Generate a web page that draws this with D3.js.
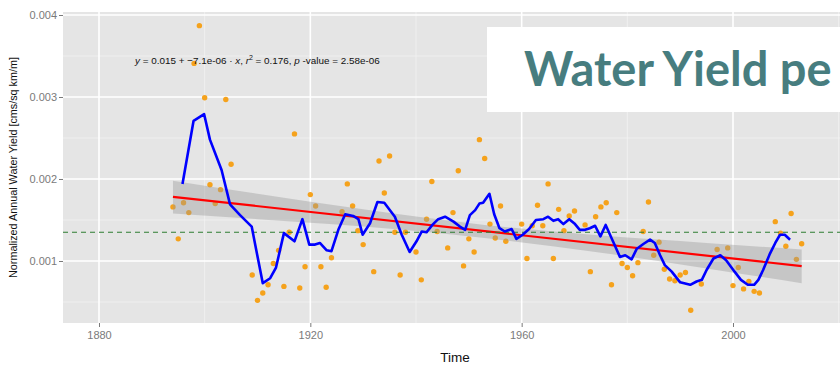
<!DOCTYPE html>
<html>
<head>
<meta charset="utf-8">
<script src="https://cdn.jsdelivr.net/npm/d3@7"></script>
<style>
  html, body { margin: 0; padding: 0; background: #fff; }
  svg { display: block; }
</style>
</head>
<body>
<svg id="chart" width="840" height="365"></svg>
<script>
// Annual normalized water yield observations (year, cms/sq km/m)
const obsYears = [1894,1895,1896,1897,1898,1899,1900,1901,1902,1903,1904,1905,
  1909,1910,1911,1912,1913,1914,1915,1916,1917,1918,1919,1920,1921,1922,1923,1924,
  1926,1927,1928,1929,1930,1932,1933,1934,1935,1936,1937,1938,1940,1941,1942,1943,1944,
  1946,1947,1948,1949,1950,1951,1952,1953,1954,1955,1956,1957,1960,1961,1962,1963,1964,
  1965,1966,1967,1968,1969,1970,1972,1973,1974,1975,1976,1977,1978,1979,1980,1981,1982,
  1983,1984,1985,1986,1987,1988,1989,1990,1991,1992,1994,1997,1999,2000,2001,2002,2003,
  2004,2005,2008,2009,2010,2011,2012,2013];
const obsValues = [0.00166,0.00127,0.00171,0.00159,0.00341,0.00387,0.00299,0.00193,0.00170,0.00187,0.00297,0.00218,
  0.00083,0.00052,0.00061,0.00071,0.00097,0.00113,0.00069,0.00135,0.00255,0.00067,0.00093,0.00181,0.00167,0.00093,0.00068,0.00104,
  0.00160,0.00194,0.00167,0.00137,0.00120,0.00087,0.00222,0.00183,0.00228,0.00135,0.00083,0.00135,0.00111,0.00077,0.00151,0.00197,0.00136,
  0.00116,0.00159,0.00210,0.00094,0.00127,0.00111,0.00248,0.00225,0.00145,0.00128,0.00167,0.00124,0.00145,0.00103,0.00143,0.00168,0.00143,
  0.00194,0.00103,0.00163,0.00137,0.00155,0.00161,0.00144,0.00087,0.00154,0.00166,0.00171,0.00071,0.00159,0.00097,0.00092,0.00082,0.00098,
  0.00136,0.00172,0.00107,0.00123,0.00090,0.00078,0.00076,0.00083,0.00086,0.00040,0.00072,0.00114,0.00116,0.00070,0.00092,0.00066,0.00075,
  0.00063,0.00061,0.00148,0.00134,0.00118,0.00158,0.00102,0.00121];

// Running-mean curve
const smoothYears = [1895.8,1897.9,1899.9,1901.0,1903.2,1904.8,1906.7,1908.9,1910.2,1911.0,1912.4,1913.5,
  1915.0,1917.0,1918.5,1919.8,1920.9,1921.8,1923.1,1924.0,1925.3,1926.6,1928.1,1929.1,1929.9,1931.3,
  1932.7,1934.0,1936.0,1937.3,1938.8,1940.1,1941.1,1942.0,1943.1,1944.2,1945.5,1947.1,1948.3,1949.3,
  1950.2,1951.2,1952.0,1952.7,1953.9,1954.8,1955.8,1956.8,1958.1,1959.0,1960.2,1961.4,1962.7,1964.1,
  1965.0,1966.0,1966.9,1967.9,1969.0,1970.1,1971.0,1972.0,1972.9,1973.9,1974.9,1975.9,1977.0,1978.6,
  1979.6,1980.8,1981.8,1983.1,1984.3,1985.2,1986.2,1987.1,1988.4,1990.0,1991.9,1993.1,1994.1,1995.0,
  1996.3,1997.6,1998.7,2000.3,2001.5,2002.8,2004.0,2004.8,2005.7,2007.0,2008.0,2008.9,2009.8,2010.8];
const smoothValues = [0.00194,0.00271,0.00279,0.00248,0.00211,0.00169,0.00156,0.00142,0.00099,0.00073,0.00079,0.00092,
  0.00134,0.00124,0.00151,0.00120,0.00120,0.00122,0.00113,0.00112,0.00138,0.00157,0.00155,0.00151,0.00132,0.00146,
  0.00172,0.00171,0.00154,0.00132,0.00111,0.00124,0.00136,0.00135,0.00144,0.00151,0.00154,0.00148,0.00142,0.00138,
  0.00156,0.00162,0.00170,0.00171,0.00182,0.00157,0.00140,0.00136,0.00139,0.00127,0.00132,0.00139,0.00150,0.00151,
  0.00154,0.00149,0.00151,0.00145,0.00151,0.00145,0.00138,0.00138,0.00140,0.00143,0.00130,0.00144,0.00128,0.00105,
  0.00107,0.00102,0.00115,0.00121,0.00126,0.00122,0.00107,0.00095,0.00087,0.00074,0.00071,0.00075,0.00077,0.00089,
  0.00103,0.00107,0.00101,0.00087,0.00077,0.00071,0.00071,0.00077,0.00089,0.00109,0.00122,0.00132,0.00132,0.00126];

// Linear fit: intercept, slope, r squared, p-value, fitted year range
const fitCoef = [0.01523, -7.1e-6];
const fitStats = [0.176, 2.58e-6];
const fitRange = [1894, 2013];

// Confidence band of the fit
const bandYears = [1894, 1910, 1930, 1953, 1975, 1995, 2013];
const bandLow   = [0.00158, 0.00151, 0.00142, 0.00128, 0.00110, 0.00091, 0.00073];
const bandHigh  = [0.00198, 0.00182, 0.00163, 0.00144, 0.00131, 0.00122, 0.00114];

// Long-term mean
const meanValue = [0.00135];

// Axis ticks
const xMajor = [1880, 1920, 1960, 2000, 2040];
const xMinor = [1900, 1940, 1980, 2020];
const yMajor = [0.001, 0.002, 0.003, 0.004];
const yMinor = [0.0005, 0.0015, 0.0025, 0.0035];

const titleText = "Water Yield pe";

const svg = d3.select("#chart");
const panel = { left: 63, top: 12, right: 847, bottom: 323 };

const x = d3.scaleLinear().domain([1880, 2000]).range([99, 733]);
const y = d3.scaleLinear().domain([0.001, 0.004]).range([261, 15]);

svg.append("defs").append("clipPath").attr("id", "panelClip")
  .append("rect")
  .attr("x", panel.left).attr("y", panel.top)
  .attr("width", panel.right - panel.left).attr("height", panel.bottom - panel.top);

// Panel background
svg.append("rect")
  .attr("x", panel.left).attr("y", panel.top)
  .attr("width", panel.right - panel.left).attr("height", panel.bottom - panel.top)
  .attr("fill", "#e5e5e5");

const grid = svg.append("g").attr("clip-path", "url(#panelClip)");
grid.selectAll(".vmin").data(xMinor).join("line")
  .attr("x1", d => x(d)).attr("x2", d => x(d))
  .attr("y1", panel.top).attr("y2", panel.bottom)
  .attr("stroke", "#f2f2f2").attr("stroke-width", 0.8);
grid.selectAll(".hmin").data(yMinor).join("line")
  .attr("y1", d => y(d)).attr("y2", d => y(d))
  .attr("x1", panel.left).attr("x2", panel.right)
  .attr("stroke", "#f2f2f2").attr("stroke-width", 0.8);
grid.selectAll(".vmaj").data(xMajor).join("line")
  .attr("x1", d => x(d)).attr("x2", d => x(d))
  .attr("y1", panel.top).attr("y2", panel.bottom)
  .attr("stroke", "#ffffff").attr("stroke-width", 1.6);
grid.selectAll(".hmaj").data(yMajor).join("line")
  .attr("y1", d => y(d)).attr("y2", d => y(d))
  .attr("x1", panel.left).attr("x2", panel.right)
  .attr("stroke", "#ffffff").attr("stroke-width", 1.6);

const plot = svg.append("g").attr("clip-path", "url(#panelClip)");

// Observations
const obs = obsYears.map((yr, i) => ({ yr, v: obsValues[i] }));
plot.append("g").selectAll("circle").data(obs).join("circle")
  .attr("cx", d => x(d.yr)).attr("cy", d => y(d.v))
  .attr("r", 2.7)
  .attr("fill", "#f5a21c");

// Confidence band
const band = bandYears.map((yr, i) => ({ yr, lo: bandLow[i], hi: bandHigh[i] }));
plot.append("path").datum(band)
  .attr("d", d3.area().curve(d3.curveMonotoneX)
    .x(d => x(d.yr)).y0(d => y(d.lo)).y1(d => y(d.hi)))
  .attr("fill", "#999999").attr("fill-opacity", 0.4);

// Fitted line
const fitY = yr => fitCoef[0] + fitCoef[1] * yr;
plot.append("path").datum(fitRange)
  .attr("d", d3.line().x(d => x(d)).y(d => y(fitY(d))))
  .attr("fill", "none").attr("stroke", "#ff0000").attr("stroke-width", 2.2);

// Mean reference line
plot.selectAll(".mean").data(meanValue).join("line")
  .attr("x1", panel.left).attr("x2", panel.right)
  .attr("y1", d => y(d)).attr("y2", d => y(d))
  .attr("stroke", "#2e7d32").attr("stroke-width", 1.1)
  .attr("stroke-dasharray", "5,4");

// Running mean
const smooth = smoothYears.map((yr, i) => ({ yr, v: smoothValues[i] }));
plot.append("path").datum(smooth)
  .attr("d", d3.line().x(d => x(d.yr)).y(d => y(d.v)))
  .attr("fill", "none").attr("stroke", "#0000ff").attr("stroke-width", 2.6)
  .attr("stroke-linejoin", "round");

// Axes
const tickColor = "#7a7a7a";
const yAxis = svg.append("g").attr("transform", `translate(${panel.left},0)`)
  .call(d3.axisLeft(y).tickValues(yMajor).tickFormat(d3.format(".3f")).tickSize(4).tickPadding(2));
yAxis.select(".domain").remove();
yAxis.selectAll("line").attr("stroke", tickColor);
yAxis.selectAll("text").attr("fill", tickColor)
  .style("font-family", "Liberation Sans, Arial, sans-serif").style("font-size", "11px");

const xAxis = svg.append("g").attr("transform", `translate(0,${panel.bottom})`)
  .call(d3.axisBottom(x).tickValues(xMajor.filter(d => x(d) < 840)).tickFormat(d3.format("d")).tickSize(4).tickPadding(4));
xAxis.select(".domain").remove();
xAxis.selectAll("line").attr("stroke", tickColor);
xAxis.selectAll("text").attr("fill", tickColor)
  .style("font-family", "Liberation Sans, Arial, sans-serif").style("font-size", "11px");

// Axis titles
svg.append("text")
  .attr("x", (panel.left + panel.right) / 2).attr("y", 362)
  .attr("text-anchor", "middle")
  .style("font-family", "Liberation Sans, Arial, sans-serif").style("font-size", "13.5px")
  .attr("fill", "#111").text("Time");
svg.append("text")
  .attr("transform", `translate(17,${(panel.top + panel.bottom) / 2}) rotate(-90)`)
  .attr("text-anchor", "middle")
  .style("font-family", "Liberation Sans, Arial, sans-serif").style("font-size", "10.8px")
  .attr("fill", "#111").text("Normalized Annual Water Yield [cms/sq km/m]");

// Regression equation
const sci = v => {
  const s = d3.format(".3~e")(v).split("e");
  const e = +s[1];
  return s[0] + "e" + (e < 0 ? "-" : "+") + String(Math.abs(e)).padStart(2, "0");
};
const eq = svg.append("text")
  .attr("x", 135).attr("y", 64)
  .style("font-family", "Liberation Sans, Arial, sans-serif").style("font-size", "9.9px")
  .attr("fill", "#111");
eq.append("tspan").style("font-style", "italic").text("y");
eq.append("tspan").text(" = " + d3.format(".3f")(fitCoef[0]) + " + " + sci(fitCoef[1]) + " \u00b7 ");
eq.append("tspan").style("font-style", "italic").text("x");
eq.append("tspan").text(",  ");
eq.append("tspan").style("font-style", "italic").text("r");
eq.append("tspan").attr("dy", -4).style("font-size", "7px").text("2");
eq.append("tspan").attr("dy", 4).text(" = " + d3.format(".3f")(fitStats[0]) + ",  ");
eq.append("tspan").style("font-style", "italic").text("p");
eq.append("tspan").text(" -value = " + sci(fitStats[1]));

// Title banner
svg.append("rect")
  .attr("x", 487).attr("y", 27).attr("width", 360).attr("height", 85)
  .attr("fill", "#ffffff");
svg.append("text")
  .attr("x", 524).attr("y", 86)
  .style("font-family", "Lato, 'Open Sans', sans-serif").style("font-weight", 700).style("font-size", "47px")
  .attr("fill", "#477d7f").text(titleText);
</script>
</body>
</html>
